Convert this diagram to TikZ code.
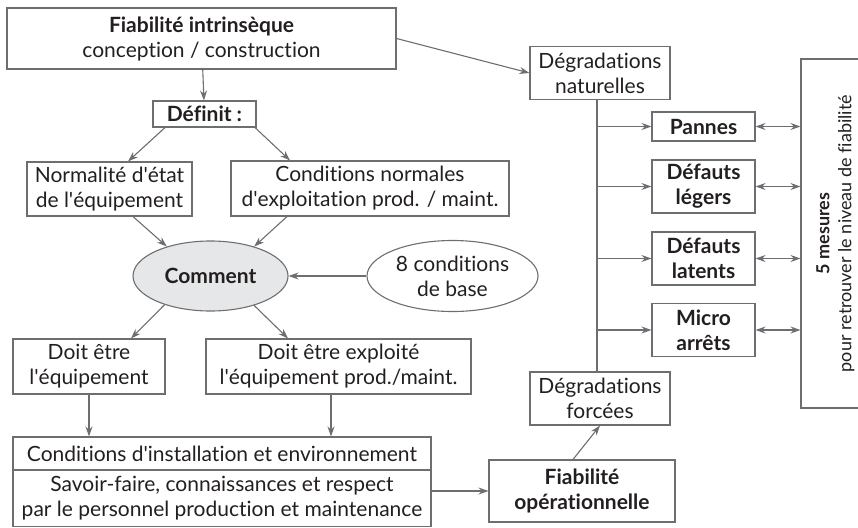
\documentclass[tikz,border=0pt]{standalone}
\usepackage{fontspec}
\setmainfont{Lato}[Ligatures={NoCommon}]
\usetikzlibrary{positioning}
\usetikzlibrary{calc}
\usetikzlibrary{arrows.meta}
\usetikzlibrary{shapes.geometric}
\definecolor{trait}{HTML}{6D6E71}
\definecolor{texte}{HTML}{231F20}
\definecolor{fond}{HTML}{E6E7E8}
\newcommand{\apo}{\textquotesingle}

\begin{document}
\begin{tikzpicture}[x=1pt, y=-1pt,
        every node/.style={text=texte, font=\fontsize{21}{25}\selectfont},
        boite/.style={draw=trait, line width=1.1pt, inner sep=0pt, align=center},
        bulle/.style={ellipse, draw=trait, line width=1.1pt, inner sep=0pt, align=center},
        fleche/.style={draw=trait, line width=1.1pt, -{Stealth[length=10pt, width=7pt]}},
        fleches/.style={draw=trait, line width=1.1pt, {Stealth[length=10pt, width=7pt]}-{Stealth[length=10pt, width=7pt]}}]
            \useasboundingbox (0,0) rectangle (858,527);

            \node[boite, minimum width=389, minimum height=61] (fiab) at (201.5,38.5) {\textbf{Fiabilité intrinsèque}\\conception / construction};
            \node[boite, minimum width=103, minimum height=26] (definit) at (204.5,114) {\textbf{Définit :}};
            \node[boite, minimum width=165, minimum height=54] (normal) at (109.5,189) {Normalité d\apo état\\de l\apo équipement};
            \node[boite, minimum width=278, minimum height=55] (condnorm) at (370,188.5) {Conditions normales\\d\apo exploitation prod. / maint.};
            \node[bulle, fill=fond, minimum width=155, minimum height=70] (comment) at (210.5,276) {\textbf{Comment}};
            \node[bulle, minimum width=171, minimum height=71] (base) at (452.5,276) {8 conditions\\de base};
            \node[boite, minimum width=152, minimum height=55] (doitetre) at (89,366.5) {Doit être\\l\apo équipement};
            \node[boite, minimum width=265, minimum height=55] (doitexpl) at (338.5,366.5) {Doit être exploité\\l\apo équipement prod./maint.};
            \node[boite, minimum width=418, minimum height=33] (install) at (222,453.5) {Conditions d\apo installation et environnement};
            \node[boite, minimum width=418, minimum height=56.5] (savoir) at (222,498.25) {Savoir-faire, connaissances et respect\\par le personnel production et maintenance};

            \node[boite, minimum width=140, minimum height=53] (degnat) at (600,73) {Dégradations\\naturelles};
            \node[boite, minimum width=103, minimum height=29] (pannes) at (703.5,126.5) {\textbf{Pannes}};
            \node[boite, minimum width=103, minimum height=53] (legers) at (703.5,186.5) {\textbf{Défauts}\\\textbf{légers}};
            \node[boite, minimum width=103, minimum height=53] (latents) at (703.5,258.5) {\textbf{Défauts}\\\textbf{latents}};
            \node[boite, minimum width=103, minimum height=53] (micro) at (703.5,330) {\textbf{Micro}\\\textbf{arrêts}};
            \node[boite, minimum width=140, minimum height=53] (degforc) at (600,398.5) {Dégradations\\forcées};
            \node[boite, minimum width=186, minimum height=62] (fiabop) at (582,491) {\textbf{Fiabilité}\\\textbf{opérationnelle}};
            \node[boite, rotate=90, minimum width=349, minimum height=69, font=\fontsize{18}{22}\selectfont] (mesures) at (835.5,233.5) {\textbf{5 mesures}\\pour retrouver le niveau de fiabilité};
            \coordinate (tronc) at ([xshift=-3pt]degnat.south);

            % partie gauche
            \draw[fleche] (fiab) -- (definit);
            \draw[fleche] ([xshift=-39.5pt]definit.south) -- ([xshift=18.5pt]normal.north);
            \draw[fleche] ([xshift=50.5pt]definit.south) -- ([xshift=-80pt]condnorm.north);
            \draw[fleche] ([xshift=23.5pt]normal.south) -- (comment.146);
            \draw[fleche] ([xshift=-83pt]condnorm.south) -- (comment.34);
            \draw[fleche] (base) -- (comment);
            \draw[fleche] (comment.212) -- ([xshift=42pt]doitetre.north);
            \draw[fleche] (comment.326) -- ([xshift=-50.5pt]doitexpl.north);
            \draw[fleche] (doitetre.south) -- (doitetre.south |- install.north);
            \draw[fleche] ([xshift=-7.5pt]doitexpl.south) -- ([xshift=-7.5pt]doitexpl.south |- install.north);
            \draw[fleche] (savoir.east |- fiabop.west) -- (fiabop.west);

            % partie droite
            \draw[fleche] (fiab.east) -- (degnat.west);
            \draw[trait, line width=1.1pt] (tronc) -- (tronc |- degforc.north);
            \draw[fleche] (tronc |- pannes.west) -- (pannes.west);
            \draw[fleche] (tronc |- legers.west) -- (legers.west);
            \draw[fleche] (tronc |- latents.west) -- (latents.west);
            \draw[fleche] (tronc |- micro.west) -- (micro.west);
            \draw[fleche] ([xshift=-9pt]fiabop.north) -- (degforc.south);
            \draw[fleches] (pannes.east) -- (pannes.east -| mesures.north);
            \draw[fleches] (legers.east) -- (legers.east -| mesures.north);
            \draw[fleches] (latents.east) -- (latents.east -| mesures.north);
            \draw[fleches] (micro.east) -- (micro.east -| mesures.north);
        \end{tikzpicture}
\end{document}
